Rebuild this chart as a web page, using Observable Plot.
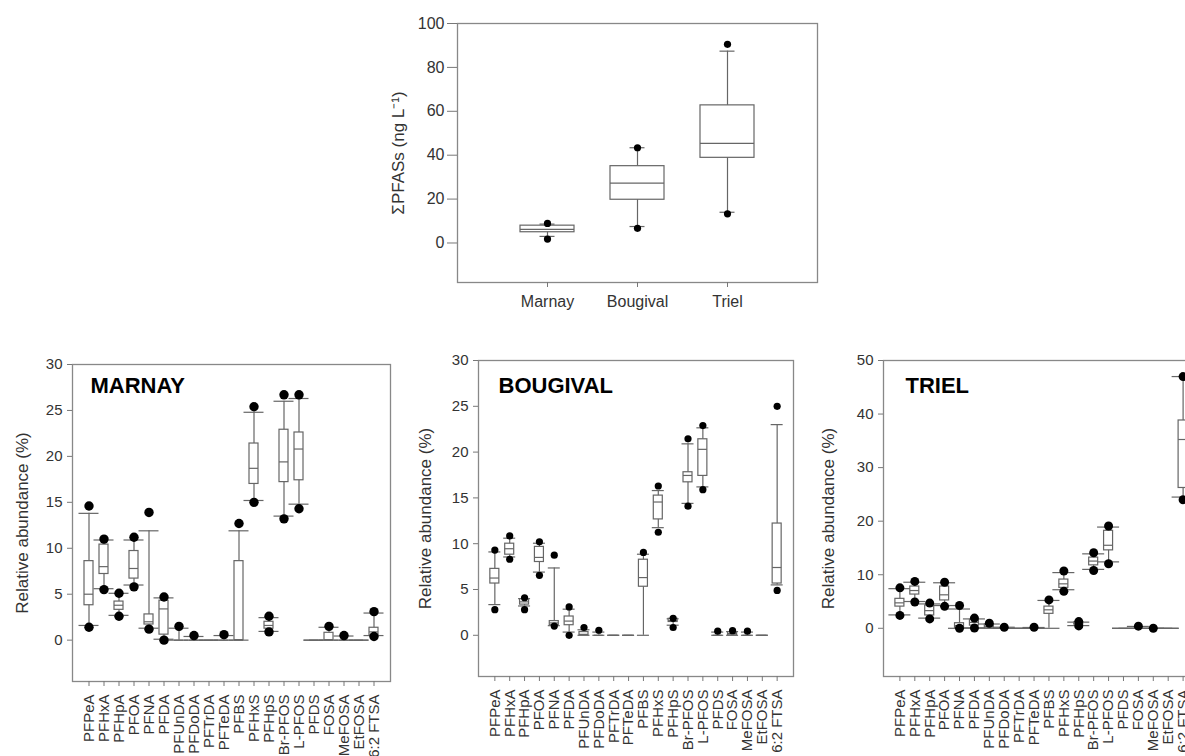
<!DOCTYPE html>
<html><head><meta charset="utf-8">
<script src="https://cdn.jsdelivr.net/npm/d3@7"></script>
<script src="https://cdn.jsdelivr.net/npm/@observablehq/plot@0.6"></script>
<style>
html,body{margin:0;padding:0;background:#fff;overflow:hidden;}
#root{position:relative;width:1185px;height:756px;overflow:hidden;font-family:"Liberation Sans",Arial,sans-serif;background:#fff;}
.panel{position:absolute;}
.panel svg{max-width:none !important;}
</style></head><body><div id="root"></div>
<script>
// ---- Top chart: sum of PFASs per site ----
const sites = ["Marnay", "Bougival", "Triel"];
const sumLo = [3.0, 7.5, 14.0];
const sumQ1 = [4.9, 19.7, 38.8];
const sumMed = [6.2, 27.3, 45.4];
const sumQ3 = [7.9, 35.0, 62.7];
const sumHi = [8.6, 43.4, 87.4];
const sumOutLo = [1.8, 6.7, 13.3];
const sumOutHi = [8.9, 43.4, 90.5];
const sumTicks = [0, 20, 40, 60, 80, 100];

// ---- Compounds ----
const compounds = ["PFPeA","PFHxA","PFHpA","PFOA","PFNA","PFDA","PFUnDA","PFDoDA","PFTrDA","PFTeDA","PFBS","PFHxS","PFHpS","Br-PFOS","L-PFOS","PFDS","FOSA","MeFOSA","EtFOSA","6:2 FTSA"];

const marnayLo    = [1.6,5.6,2.7,6.0,1.3,0.1,0,0,0,0,0,15.2,0.95,13.5,14.8,0,0,0,0,0.5];
const marnayQ1    = [3.8,7.2,3.3,6.7,1.7,0.6,0,0,0,0,0,17.0,1.25,17.2,17.4,0,0,0,0,0.5];
const marnayMed   = [5.0,8.0,3.8,7.8,2.0,3.4,0,0,0,0,0,18.7,1.6,19.4,20.8,0,0,0,0,0.9];
const marnayQ3    = [8.6,10.4,4.2,9.7,2.8,4.3,0,0,0,0,8.6,21.4,2.0,22.9,22.6,0,0.8,0,0,1.35];
const marnayHi    = [13.8,10.9,5.1,10.9,11.9,4.6,1.3,0.4,0,0.5,11.9,24.8,2.45,26.0,26.3,0,1.4,0.45,0,2.95];
const marnayOutLo = [1.4,5.5,2.6,5.8,1.2,0.0,null,null,null,null,null,15.0,0.9,13.2,14.3,null,null,null,null,0.4];
const marnayOutHi = [14.6,11.0,5.1,11.2,13.9,4.7,1.5,0.5,null,0.6,12.7,25.4,2.6,26.7,26.7,null,1.5,0.5,null,3.1];

const bougivalLo    = [3.35,8.55,3.2,6.9,1.05,0.35,0,0,0,0,0,11.75,1.1,14.4,16.2,0,0,0,0,5.5];
const bougivalQ1    = [5.65,8.8,3.35,8.0,1.1,1.1,0,0,0,0,5.3,12.65,1.45,16.7,17.4,0,0,0,0,5.65];
const bougivalMed   = [6.25,9.45,3.65,8.5,1.35,1.55,0.1,0,0,0,6.3,14.55,1.6,17.45,20.3,0,0.2,0,0,7.4];
const bougivalQ3    = [7.25,10.0,3.95,9.65,1.55,2.05,0.35,0,0,0,8.25,15.25,1.8,17.8,21.4,0,0.35,0,0,12.2];
const bougivalHi    = [9.1,10.6,4.0,10.05,7.35,2.85,0.6,0.35,0,0,8.85,15.8,1.8,20.9,22.65,0.35,0.4,0.35,0,23.0];
const bougivalOutLo = [2.8,8.3,2.8,6.55,1.0,0.0,null,null,null,null,null,11.25,0.85,14.1,15.9,null,null,null,null,4.9];
const bougivalOutHi = [9.3,10.85,4.1,10.2,8.75,3.1,0.85,0.55,null,null,9.05,16.3,1.85,21.45,22.9,0.45,0.5,0.45,null,25.0];

const trielLo    = [2.5,5.0,1.9,4.25,0,0.1,0,0,0,0,0,7.2,0.5,11.0,12.4,0,0,0,0,24.5];
const trielQ1    = [4.05,6.3,2.4,5.2,0,0.5,0,0,0,0,2.7,7.55,0.7,11.75,14.55,0,0,0,0,26.2];
const trielMed   = [4.75,7.05,3.3,6.25,0.5,1.1,0.3,0,0,0,3.45,8.3,0.9,12.55,15.5,0,0,0,0,35.25];
const trielQ3    = [5.5,7.8,4.25,7.8,0.95,1.6,0.7,0,0,0,4.05,9.1,1.1,13.2,18.2,0,0,0,0,38.8];
const trielHi    = [7.4,8.6,4.55,8.5,3.6,1.75,0.8,0.2,0,0.15,5.2,10.4,1.15,13.9,18.9,0,0.35,0,0,47.0];
const trielOutLo = [2.4,4.9,1.75,4.1,0.0,0.05,null,null,null,null,null,6.9,0.45,10.8,12.05,null,null,null,null,24.0];
const trielOutHi = [7.55,8.75,4.7,8.6,4.25,1.9,0.95,0.2,null,0.2,5.3,10.7,1.25,14.1,19.1,null,0.4,0.0,null,47.0];

const pctTicks30 = [0, 5, 10, 15, 20, 25, 30];
const pctTicks50 = [0, 10, 20, 30, 40, 50];

const FONT = '"Liberation Sans", Arial, sans-serif';
const root = document.getElementById("root");

function boxPlot(c) {
  const rows = c.names.map((n, i) => ({n, lo: c.lo[i], q1: c.q1[i], med: c.med[i], q3: c.q3[i], hi: c.hi[i], ol: c.outLo[i], oh: c.outHi[i]}));
  const step = c.frameW / (c.names.length + 2 * c.padOuter);
  const boxInset = (step - c.boxW) / 2;
  const capInset = (step - c.capW) / 2;
  const mL = 90, mT = 10, mR = 10, mB = 110;
  const line = "#666";
  const marks = [
    Plot.ruleX(rows, {x: "n", y1: "lo", y2: "hi", stroke: line, strokeWidth: 1.2}),
    Plot.tickY(rows, {x: "n", y: "lo", insetLeft: capInset, insetRight: capInset, stroke: line, strokeWidth: 1.2}),
    Plot.tickY(rows, {x: "n", y: "hi", insetLeft: capInset, insetRight: capInset, stroke: line, strokeWidth: 1.2}),
    Plot.barY(rows, {x: "n", y1: "q1", y2: "q3", fill: "white", stroke: line, strokeWidth: 1.2, insetLeft: boxInset, insetRight: boxInset}),
    Plot.tickY(rows, {x: "n", y: "med", insetLeft: boxInset, insetRight: boxInset, stroke: line, strokeWidth: 1.2}),
    Plot.dot(rows.filter(d => d.ol != null), {x: "n", y: "ol", r: c.r, fill: "black"}),
    Plot.dot(rows.filter(d => d.oh != null), {x: "n", y: "oh", r: c.r, fill: "black"}),
    Plot.frame({stroke: "#888", strokeWidth: 1.3}),
    Plot.axisY({ticks: c.yTicks, tickSize: c.yTickSize, tickPadding: c.yTickPad, label: null, stroke: "#777", fill: "#333"}),
    Plot.axisX({tickSize: c.xTickSize, tickPadding: c.xTickPad, tickRotate: c.rotate, label: null, stroke: "#777", fill: "#333"}),
    Plot.text([c.ylabel], {frameAnchor: "left", rotate: -90, textAnchor: "middle", lineAnchor: "middle", dx: -c.ylabelOffset, fontSize: c.labelSize, fill: "#333", text: d => d})
  ];
  if (c.title) marks.push(Plot.text([c.title], {frameAnchor: "top-left", dx: c.titleDx, dy: c.titleDy, textAnchor: "start", lineAnchor: "middle", fontSize: 22, fontWeight: "bold", fill: "black", text: d => d}));
  const width = mL + c.frameW + mR;
  const height = mT + c.frameH + mB;
  const svg = Plot.plot({
    width, height,
    marginLeft: mL, marginTop: mT, marginRight: mR, marginBottom: mB,
    style: {fontFamily: FONT, fontSize: c.fontSize + "px", color: "#333", background: "transparent", maxWidth: "none", overflow: "visible"},
    x: {type: "band", domain: c.names, paddingInner: 0, paddingOuter: c.padOuter, round: false},
    y: {domain: c.yDomain, round: false},
    marks
  });
  const div = document.createElement("div");
  div.className = "panel";
  div.style.left = (c.frameLeft - mL) + "px";
  div.style.top = (c.frameTop - mT) + "px";
  div.style.width = width + "px";
  div.style.height = height + "px";
  div.appendChild(svg);
  root.appendChild(div);
}

boxPlot({
  names: sites, lo: sumLo, q1: sumQ1, med: sumMed, q3: sumQ3, hi: sumHi, outLo: sumOutLo, outHi: sumOutHi,
  yDomain: [-18, 100], yTicks: sumTicks, frameLeft: 457, frameTop: 23, frameW: 360, frameH: 259,
  padOuter: 0.5, boxW: 54, capW: 15, r: 3.6, fontSize: 16, labelSize: 17,
  yTickSize: 10, yTickPad: 3, xTickSize: 5, xTickPad: 8, rotate: 0,
  ylabel: "ΣPFASs (ng L⁻¹)", ylabelOffset: 59
});

boxPlot({
  names: compounds, lo: marnayLo, q1: marnayQ1, med: marnayMed, q3: marnayQ3, hi: marnayHi, outLo: marnayOutLo, outHi: marnayOutHi,
  yDomain: [-4.5, 30], yTicks: pctTicks30, frameLeft: 72, frameTop: 364, frameW: 318, frameH: 317,
  padOuter: 0.6, boxW: 9, capW: 20, r: 4.7, fontSize: 15, labelSize: 17,
  yTickSize: 5, yTickPad: 5, xTickSize: 5, xTickPad: 8, rotate: -90,
  ylabel: "Relative abundance (%)", ylabelOffset: 50, title: "MARNAY", titleDx: 18, titleDy: 21
});

boxPlot({
  names: compounds, lo: bougivalLo, q1: bougivalQ1, med: bougivalMed, q3: bougivalQ3, hi: bougivalHi, outLo: bougivalOutLo, outHi: bougivalOutHi,
  yDomain: [-4.5, 30], yTicks: pctTicks30, frameLeft: 478, frameTop: 360, frameW: 315, frameH: 316,
  padOuter: 0.6, boxW: 9, capW: 12, r: 3.6, fontSize: 15, labelSize: 17,
  yTickSize: 5, yTickPad: 5, xTickSize: 5, xTickPad: 8, rotate: -90,
  ylabel: "Relative abundance (%)", ylabelOffset: 53, title: "BOUGIVAL", titleDx: 20, titleDy: 25
});

boxPlot({
  names: compounds, lo: trielLo, q1: trielQ1, med: trielMed, q3: trielQ3, hi: trielHi, outLo: trielOutLo, outHi: trielOutHi,
  yDomain: [-9, 50], yTicks: pctTicks50, frameLeft: 883, frameTop: 360, frameW: 316, frameH: 316,
  padOuter: 0.6, boxW: 9, capW: 22, r: 4.5, fontSize: 15, labelSize: 17,
  yTickSize: 5, yTickPad: 5, xTickSize: 5, xTickPad: 8, rotate: -90,
  ylabel: "Relative abundance (%)", ylabelOffset: 55, title: "TRIEL", titleDx: 22, titleDy: 25
});
</script>
</body></html>
